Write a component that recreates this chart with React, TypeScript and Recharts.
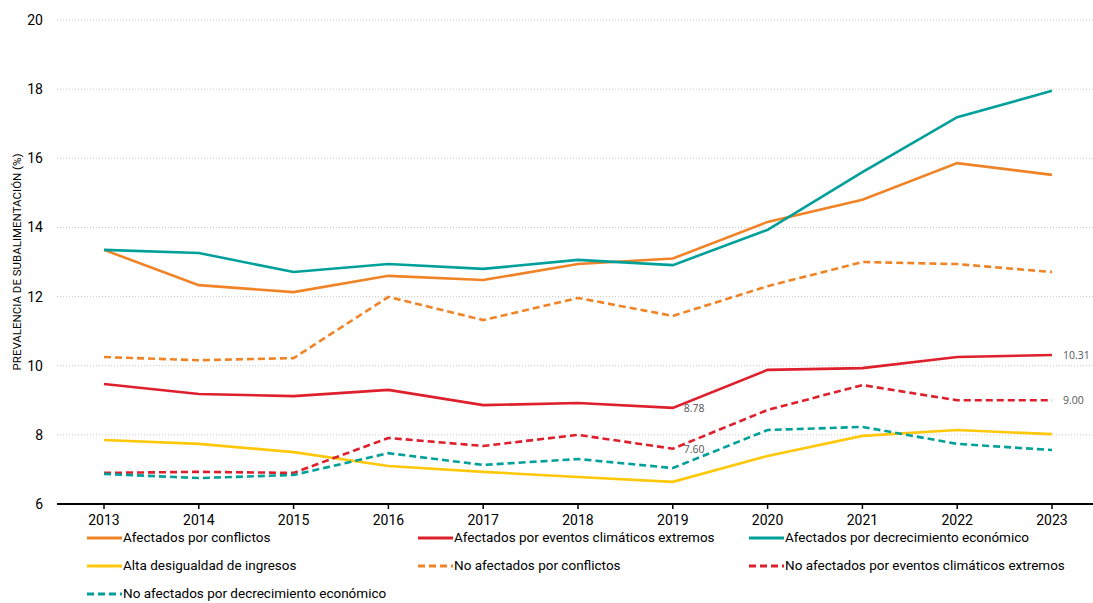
import { LineChart, Line, XAxis, YAxis, CartesianGrid, LabelList } from "recharts";

const years = ["2013", "2014", "2015", "2016", "2017", "2018", "2019", "2020", "2021", "2022", "2023"];

const conflictos = [13.35, 12.33, 12.13, 12.6, 12.48, 12.94, 13.1, 14.16, 14.8, 15.86, 15.52];
const climaticos = [9.47, 9.18, 9.12, 9.3, 8.86, 8.92, 8.78, 9.88, 9.93, 10.25, 10.31];
const decrecimiento = [13.35, 13.26, 12.71, 12.94, 12.8, 13.06, 12.91, 13.93, 15.6, 17.19, 17.95];
const desigualdad = [7.85, 7.74, 7.5, 7.1, 6.93, 6.78, 6.64, 7.39, 7.97, 8.14, 8.02];
const noConflictos = [10.25, 10.16, 10.22, 11.99, 11.32, 11.96, 11.44, 12.3, 13.0, 12.94, 12.71];
const noClimaticos = [6.9, 6.93, 6.9, 7.91, 7.68, 8.0, 7.6, 8.72, 9.44, 9.0, 9.0];
const noDecrecimiento = [6.87, 6.75, 6.84, 7.47, 7.13, 7.3, 7.04, 8.14, 8.23, 7.74, 7.56];

const yTicks = [6, 8, 10, 12, 14, 16, 18, 20];
// puntos con etiqueta de valor (indices)
const labelledIdx = [6, 10];

const series = [
  { key: "conflictos", name: "Afectados por conflictos", color: "#F08326", dashed: false, values: conflictos, label: false },
  { key: "climaticos", name: "Afectados por eventos climáticos extremos", color: "#DE1F2C", dashed: false, values: climaticos, label: true },
  { key: "decrecimiento", name: "Afectados por decrecimiento económico", color: "#00A09A", dashed: false, values: decrecimiento, label: false },
  { key: "desigualdad", name: "Alta desigualdad de ingresos", color: "#FFC80A", dashed: false, values: desigualdad, label: false },
  { key: "noConflictos", name: "No afectados por conflictos", color: "#F08326", dashed: true, values: noConflictos, label: false },
  { key: "noClimaticos", name: "No afectados por eventos climáticos extremos", color: "#DE1F2C", dashed: true, values: noClimaticos, label: true },
  { key: "noDecrecimiento", name: "No afectados por decrecimiento económico", color: "#00A09A", dashed: true, values: noDecrecimiento, label: false },
];

const data = years.map((year, i) => {
  const row: Record<string, string | number> = { year };
  series.forEach((s) => {
    row[s.key] = s.values[i];
  });
  return row;
});

const font = "'Liberation Sans Narrow', 'Roboto', sans-serif";

const ValueLabel = (props: any) => {
  const { x, y, value, index } = props;
  if (!labelledIdx.includes(index)) return null;
  return (
    <text x={x + 11} y={y} dy={4} fontSize={10.5} fill="#555" fontFamily="'Open Sans', sans-serif">
      {Number(value).toFixed(2)}
    </text>
  );
};

const YLabel = (props: any) => {
  const { viewBox } = props;
  const cy = viewBox.y + viewBox.height / 2;
  return (
    <text
      x={17}
      y={cy}
      transform={`rotate(-90, 17, ${cy})`}
      textAnchor="middle"
      dominantBaseline="central"
      fontSize={11.5}
      fill="#000"
      fontFamily={font}
    >
      PREVALENCIA DE SUBALIMENTACIÓN (%)
    </text>
  );
};

export default function App() {
  return (
    <div style={{ position: "absolute", left: 0, top: 0, width: 1093, height: 603, background: "#fff" }}>
      <LineChart width={1093} height={603} data={data} margin={{ top: 20, right: 0, bottom: 69, left: 0 }}>
        <CartesianGrid vertical={false} stroke="#c8c8c8" strokeDasharray="1 2" />
        <XAxis
          dataKey="year"
          padding={{ left: 47, right: 41 }}
          axisLine={{ stroke: "#000", strokeWidth: 2 }}
          tickLine={{ stroke: "#000", strokeWidth: 1.5 }}
          tickSize={5}
          tickMargin={6}
          height={30}
          tick={{ fontSize: 14, fill: "#000", fontFamily: font }}
        />
        <YAxis
          domain={[6, 20]}
          ticks={yTicks}
          width={57}
          axisLine={false}
          tickLine={false}
          tickSize={0}
          tickMargin={14}
          tick={{ fontSize: 14, fill: "#000", fontFamily: font }}
          label={<YLabel />}
        />
        {series.map((s) => (
          <Line
            key={s.key}
            dataKey={s.key}
            name={s.name}
            type="linear"
            stroke={s.color}
            strokeWidth={2.6}
            strokeDasharray={s.dashed ? "7 4" : undefined}
            dot={false}
            activeDot={false}
            isAnimationActive={false}
          >
            {s.label && <LabelList dataKey={s.key} content={<ValueLabel />} />}
          </Line>
        ))}
      </LineChart>
      <div
        style={{
          position: "absolute",
          left: 87,
          top: 524,
          width: 1000,
          display: "flex",
          flexWrap: "wrap",
          fontFamily: font,
          fontSize: 13.5,
          color: "#000",
        }}
      >
        {series.map((s) => (
          <div key={s.key} style={{ width: 331, height: 28, display: "flex", alignItems: "center" }}>
            <svg width={36} height={10} style={{ marginRight: 0 }}>
              <line
                x1={0}
                y1={5}
                x2={35}
                y2={5}
                stroke={s.color}
                strokeWidth={3}
                strokeDasharray={s.dashed ? "7 4" : undefined}
              />
            </svg>
            <span style={{ marginTop: -2 }}>{s.name}</span>
          </div>
        ))}
      </div>
    </div>
  );
}
